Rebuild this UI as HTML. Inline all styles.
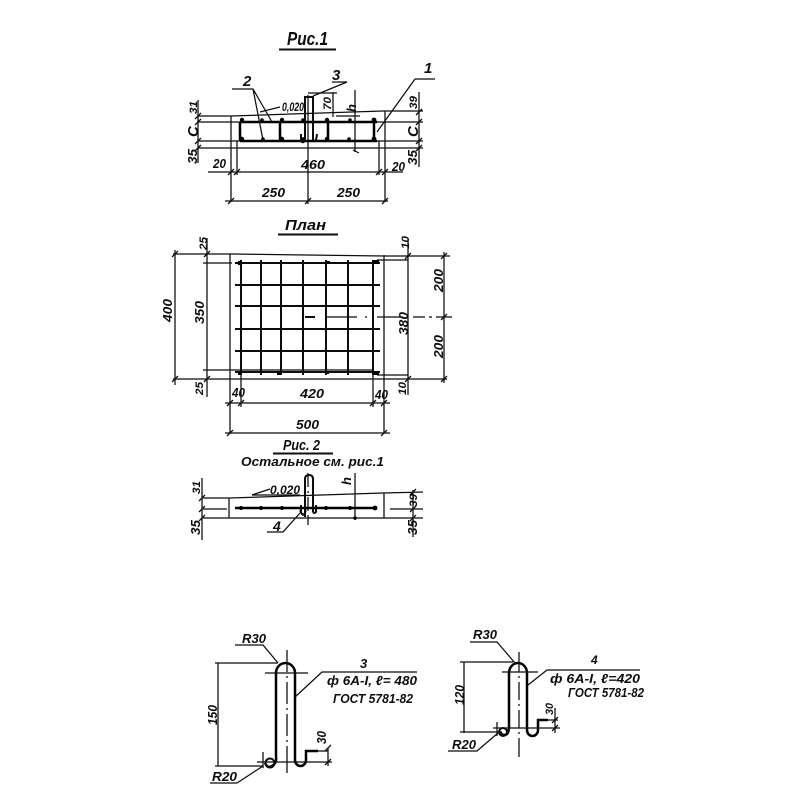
<!DOCTYPE html>
<html>
<head>
<meta charset="utf-8">
<style>
html,body{margin:0;padding:0;background:#fff}
svg{display:block}
text{font-family:"Liberation Sans","DejaVu Sans",sans-serif;font-style:italic;font-weight:bold;fill:#111;font-size:13px}
.l{stroke:#111;stroke-width:1.25;fill:none}
.m{stroke:#0a0a0a;stroke-width:2;fill:none}
.b{stroke:#050505;stroke-width:2.5;fill:none}
.d{fill:#050505}
</style>
</head>
<body>
<svg width="800" height="800" viewBox="0 0 800 800" xmlns="http://www.w3.org/2000/svg">
<defs><filter id="s" x="0" y="0" width="100%" height="100%"><feGaussianBlur stdDeviation="0.35"/></filter></defs>
<rect width="800" height="800" fill="#fff"/>
<g filter="url(#s)">

<!-- Fig 1 -->
<text x="287" y="45" style="font-size:18px" textLength="41" lengthAdjust="spacingAndGlyphs">Рис.1</text>
<path class="m" d="M279 49.5H336"/>
<path class="l" d="M198 116H232L383 111H423M198 122H423M198 141H423M198 148H423"/>
<path class="l" d="M231 116V202M385 111V202M237 141V175M379 141V175M208 172H403M225 201H388M308 95V204M198 100V163M419 92V167"/>
<path class="l" d="M195 119l6-6M195 125l6-6M195 144l6-6M195 151l6-6M416 115l6-6M416 125l6-6M416 144l6-6M416 151l6-6M228 175l6-6M234 175l6-6M376 175l6-6M382 175l6-6M228 204l6-6M305 204l6-6M382 204l6-6"/>
<path class="b" d="M240 122H377M240 141H377M240 122V141M280 122V141M328 122V141M374 122V141"/>
<path class="m" d="M305 140V97H313V140M301 134V141Q303 144 305 140M313 140Q316 144 317 134"/>
<g class="d"><circle cx="242" cy="120" r="2.2"/><circle cx="262" cy="120" r="1.8"/><circle cx="282" cy="120" r="2.2"/><circle cx="303" cy="120" r="1.8"/><circle cx="327" cy="120" r="2.2"/><circle cx="350" cy="120" r="1.8"/><circle cx="374" cy="120" r="2.4"/><circle cx="242" cy="139" r="2.2"/><circle cx="263" cy="139" r="1.8"/><circle cx="282" cy="139" r="2.2"/><circle cx="303" cy="139" r="1.8"/><circle cx="327" cy="139" r="2.2"/><circle cx="349" cy="139" r="1.8"/><circle cx="374" cy="139" r="2.4"/></g>
<path class="l" d="M232 89H253L272 122M253 89L263 140M332 82H347L313 96M308 93H337M333 92V117M355 90V152M336 116H360M353 150l6 3M415 79H435M415 79L377 132M260 112L280 107"/>
<text x="243" y="86" style="font-size:15px">2</text>
<text x="332" y="80" style="font-size:15px">3</text>
<text x="424" y="73" style="font-size:15px">1</text>
<text x="282" y="111" style="font-size:12px" textLength="22" lengthAdjust="spacingAndGlyphs">0,020</text>
<text transform="translate(331,110) rotate(-90)" style="font-size:11px" textLength="13" lengthAdjust="spacingAndGlyphs">70</text>
<text transform="translate(356,112) rotate(-90)">h</text>
<text transform="translate(197,114) rotate(-90)" style="font-size:11px" textLength="13" lengthAdjust="spacingAndGlyphs">31</text>
<text transform="translate(198,137) rotate(-90)" style="font-size:15px">C</text>
<text transform="translate(197,164) rotate(-90)" textLength="15" lengthAdjust="spacingAndGlyphs">35</text>
<text transform="translate(417,109) rotate(-90)" style="font-size:11px" textLength="13" lengthAdjust="spacingAndGlyphs">39</text>
<text transform="translate(418,137) rotate(-90)" style="font-size:15px">C</text>
<text transform="translate(417,165) rotate(-90)" textLength="15" lengthAdjust="spacingAndGlyphs">35</text>
<text x="213" y="168" textLength="13" lengthAdjust="spacingAndGlyphs">20</text>
<text x="301" y="169" textLength="24" lengthAdjust="spacingAndGlyphs">460</text>
<text x="392" y="171" textLength="13" lengthAdjust="spacingAndGlyphs">20</text>
<text x="262" y="197" textLength="23" lengthAdjust="spacingAndGlyphs">250</text>
<text x="337" y="197" textLength="23" lengthAdjust="spacingAndGlyphs">250</text>

<!-- Plan -->
<text x="285" y="230" style="font-size:15px" textLength="41" lengthAdjust="spacingAndGlyphs">План</text>
<path class="m" d="M278 234.5H338"/>
<path class="l" d="M173 254H232L384 256H450M173 379H447M230 254V433M384 255V433M175 250V385M207 238V397M408 238V395M444 252V383M225 403H390M225 433H390M203 263H232M203 370H373M377 260H408M377 375H408"/>
<path class="l" d="M172 257l6-6M204 257l6-6M405 259l6-6M441 259l6-6M172 382l6-6M204 382l6-6M405 382l6-6M441 382l6-6M227 406l6-6M238 406l6-6M370 406l6-6M381 406l6-6M227 436l6-6M381 436l6-6M441 320l6-6"/>
<path class="m" d="M235 263H380M235 285H380M235 306H380M235 329H380M235 351H380M235 372H380"/>
<path class="m" d="M241 260V375M261 260V375M281 260V375M303 260V375M326 260V375M348 260V375M373 260V375"/>
<path class="l" d="M241 375V407M373 375V407"/>
<g class="d"><rect x="373" y="260" width="6" height="4"/><rect x="373" y="371" width="6" height="4"/><rect x="277" y="371" width="5" height="4"/><rect x="325" y="261" width="5" height="3"/><rect x="325" y="371" width="4" height="3"/><rect x="238" y="261" width="4" height="4"/><rect x="238" y="371" width="4" height="4"/></g>
<path class="m" d="M305 317H315"/>
<path class="l" d="M327 317H357M365 317H367M377 317H403M413 317H425M429 317H432M436 317H452"/>
<text transform="translate(207,250) rotate(-90)" style="font-size:11px" textLength="13" lengthAdjust="spacingAndGlyphs">25</text>
<text transform="translate(409,249) rotate(-90)" style="font-size:11px" textLength="13" lengthAdjust="spacingAndGlyphs">10</text>
<text transform="translate(172,322) rotate(-90)" textLength="23" lengthAdjust="spacingAndGlyphs">400</text>
<text transform="translate(204,324) rotate(-90)" textLength="23" lengthAdjust="spacingAndGlyphs">350</text>
<text transform="translate(443,292) rotate(-90)" textLength="23" lengthAdjust="spacingAndGlyphs">200</text>
<text transform="translate(443,358) rotate(-90)" textLength="23" lengthAdjust="spacingAndGlyphs">200</text>
<text transform="translate(408,335) rotate(-90)" textLength="23" lengthAdjust="spacingAndGlyphs">380</text>
<text transform="translate(203,395) rotate(-90)" style="font-size:11px" textLength="13" lengthAdjust="spacingAndGlyphs">25</text>
<text transform="translate(406,395) rotate(-90)" style="font-size:11px" textLength="13" lengthAdjust="spacingAndGlyphs">10</text>
<text x="232" y="397" textLength="13" lengthAdjust="spacingAndGlyphs">40</text>
<text x="300" y="398" textLength="24" lengthAdjust="spacingAndGlyphs">420</text>
<text x="375" y="399" textLength="13" lengthAdjust="spacingAndGlyphs">40</text>
<text x="296" y="429" textLength="23" lengthAdjust="spacingAndGlyphs">500</text>

<!-- Fig 2 -->
<text x="283" y="450" style="font-size:15px" textLength="37" lengthAdjust="spacingAndGlyphs">Рис. 2</text>
<path class="m" d="M273 453.5H333"/>
<text x="241" y="466" style="font-size:12.5px" textLength="143" lengthAdjust="spacingAndGlyphs">Остальное см. рис.1</text>
<path class="l" d="M203 498H230L383 493L423 492M203 518H423M203 509H227M390 509H423M229 498V518M384 493V518M202 478V540M413 490V537M355 473V520M252 495L270 489M252 495H300M267 532H283L300 513"/>
<path class="l" d="M199 501l6-6M199 512l6-6M199 521l6-6M410 495l6-6M410 512l6-6M410 521l6-6"/>
<path class="l" d="M308 473V487M308 491V493M308 497V511M308 515V525"/>
<path class="b" d="M235 508H377"/>
<path class="m" d="M305 517V479Q305 475 309 475Q313 475 313 479V512M301 505V512Q303 517 305 513M313 512Q314 514 316 512V505"/>
<circle cx="303" cy="511" r="3" fill="none" stroke="#111"/>
<g class="d"><circle cx="241" cy="508" r="2"/><circle cx="261" cy="508" r="2"/><circle cx="282" cy="508" r="2"/><circle cx="326" cy="508" r="2"/><circle cx="350" cy="508" r="2"/><circle cx="375" cy="508" r="2.4"/><circle cx="355" cy="518" r="1.8"/></g>
<text x="270" y="494" textLength="30" lengthAdjust="spacingAndGlyphs" style="font-size:12px">0,020</text>
<text x="273" y="531" style="font-size:14px">4</text>
<text transform="translate(351,485) rotate(-90)">h</text>
<text transform="translate(200,494) rotate(-90)" style="font-size:11px" textLength="13" lengthAdjust="spacingAndGlyphs">31</text>
<text transform="translate(200,535) rotate(-90)" textLength="15" lengthAdjust="spacingAndGlyphs">35</text>
<text transform="translate(417,507) rotate(-90)" style="font-size:11px" textLength="13" lengthAdjust="spacingAndGlyphs">39</text>
<text transform="translate(417,535) rotate(-90)" textLength="15" lengthAdjust="spacingAndGlyphs">35</text>

<!-- Detail 3 -->
<path class="b" d="M265 763Q268 769 272 766Q277 763 276 757V673A9.5 10 0 0 1 295 673V760A5.5 6 0 0 0 306 760V751H318"/>
<circle cx="270" cy="763" r="4.5" fill="none" stroke="#111" stroke-width="2"/>
<path class="l" d="M318 751H328M215 663H278M218 663V766M215 766H263M257 762H332M265 673H308M263 752V768M328 748V766"/>
<path class="l" d="M287 650V672M287 676V678M287 682V704M287 708V710M287 714V736M287 740V742M287 746V773"/>
<path class="l" d="M295 697L322 672H417M235 645H263L278 663M210 783H237L263 766"/>
<path class="l" d="M325 751l6-6M325 765l6-6"/>
<text x="360" y="668" style="font-size:13px">3</text>
<text x="327" y="685" style="font-size:13px" textLength="90" lengthAdjust="spacingAndGlyphs">ф 6А-I, ℓ= 480</text>
<text x="333" y="703" style="font-size:13px" textLength="80" lengthAdjust="spacingAndGlyphs">ГОСТ 5781-82</text>
<text x="242" y="643" textLength="24" lengthAdjust="spacingAndGlyphs">R30</text>
<text x="212" y="781" textLength="25" lengthAdjust="spacingAndGlyphs">R20</text>
<text transform="translate(217,725) rotate(-90)" textLength="20" lengthAdjust="spacingAndGlyphs">150</text>
<text transform="translate(326,744) rotate(-90)" textLength="13" lengthAdjust="spacingAndGlyphs">30</text>

<!-- Detail 4 -->
<path class="b" d="M499 731Q503 737 507 734Q509 732 509 726V673A9 10 0 0 1 527 673V730A5.5 6 0 0 0 538 730V720H548"/>
<circle cx="503" cy="732" r="4" fill="none" stroke="#111" stroke-width="2"/>
<path class="l" d="M548 720H558M460 662H513M464 662V733M460 732H502M493 728H560M502 672H538M497 722V736M555 708V733"/>
<path class="l" d="M519 652V672M519 676V678M519 682V700M519 704V706M519 710V728M519 732V734M519 738V757"/>
<path class="l" d="M528 685L547 670H640M470 642H497L515 663M448 751H477L498 733"/>
<path class="l" d="M552 723l6-6M552 731l6-6"/>
<text x="591" y="664" style="font-size:12px">4</text>
<text x="550" y="683" style="font-size:13px" textLength="90" lengthAdjust="spacingAndGlyphs">ф 6А-I, ℓ=420</text>
<text x="568" y="697" style="font-size:13px" textLength="76" lengthAdjust="spacingAndGlyphs">ГОСТ 5781-82</text>
<text x="473" y="639" textLength="24" lengthAdjust="spacingAndGlyphs">R30</text>
<text x="452" y="749" textLength="24" lengthAdjust="spacingAndGlyphs">R20</text>
<text transform="translate(464,705) rotate(-90)" textLength="20" lengthAdjust="spacingAndGlyphs">120</text>
<text transform="translate(553,715) rotate(-90)" style="font-size:11px" textLength="12" lengthAdjust="spacingAndGlyphs">30</text>
</g>
</svg>
</body>
</html>
